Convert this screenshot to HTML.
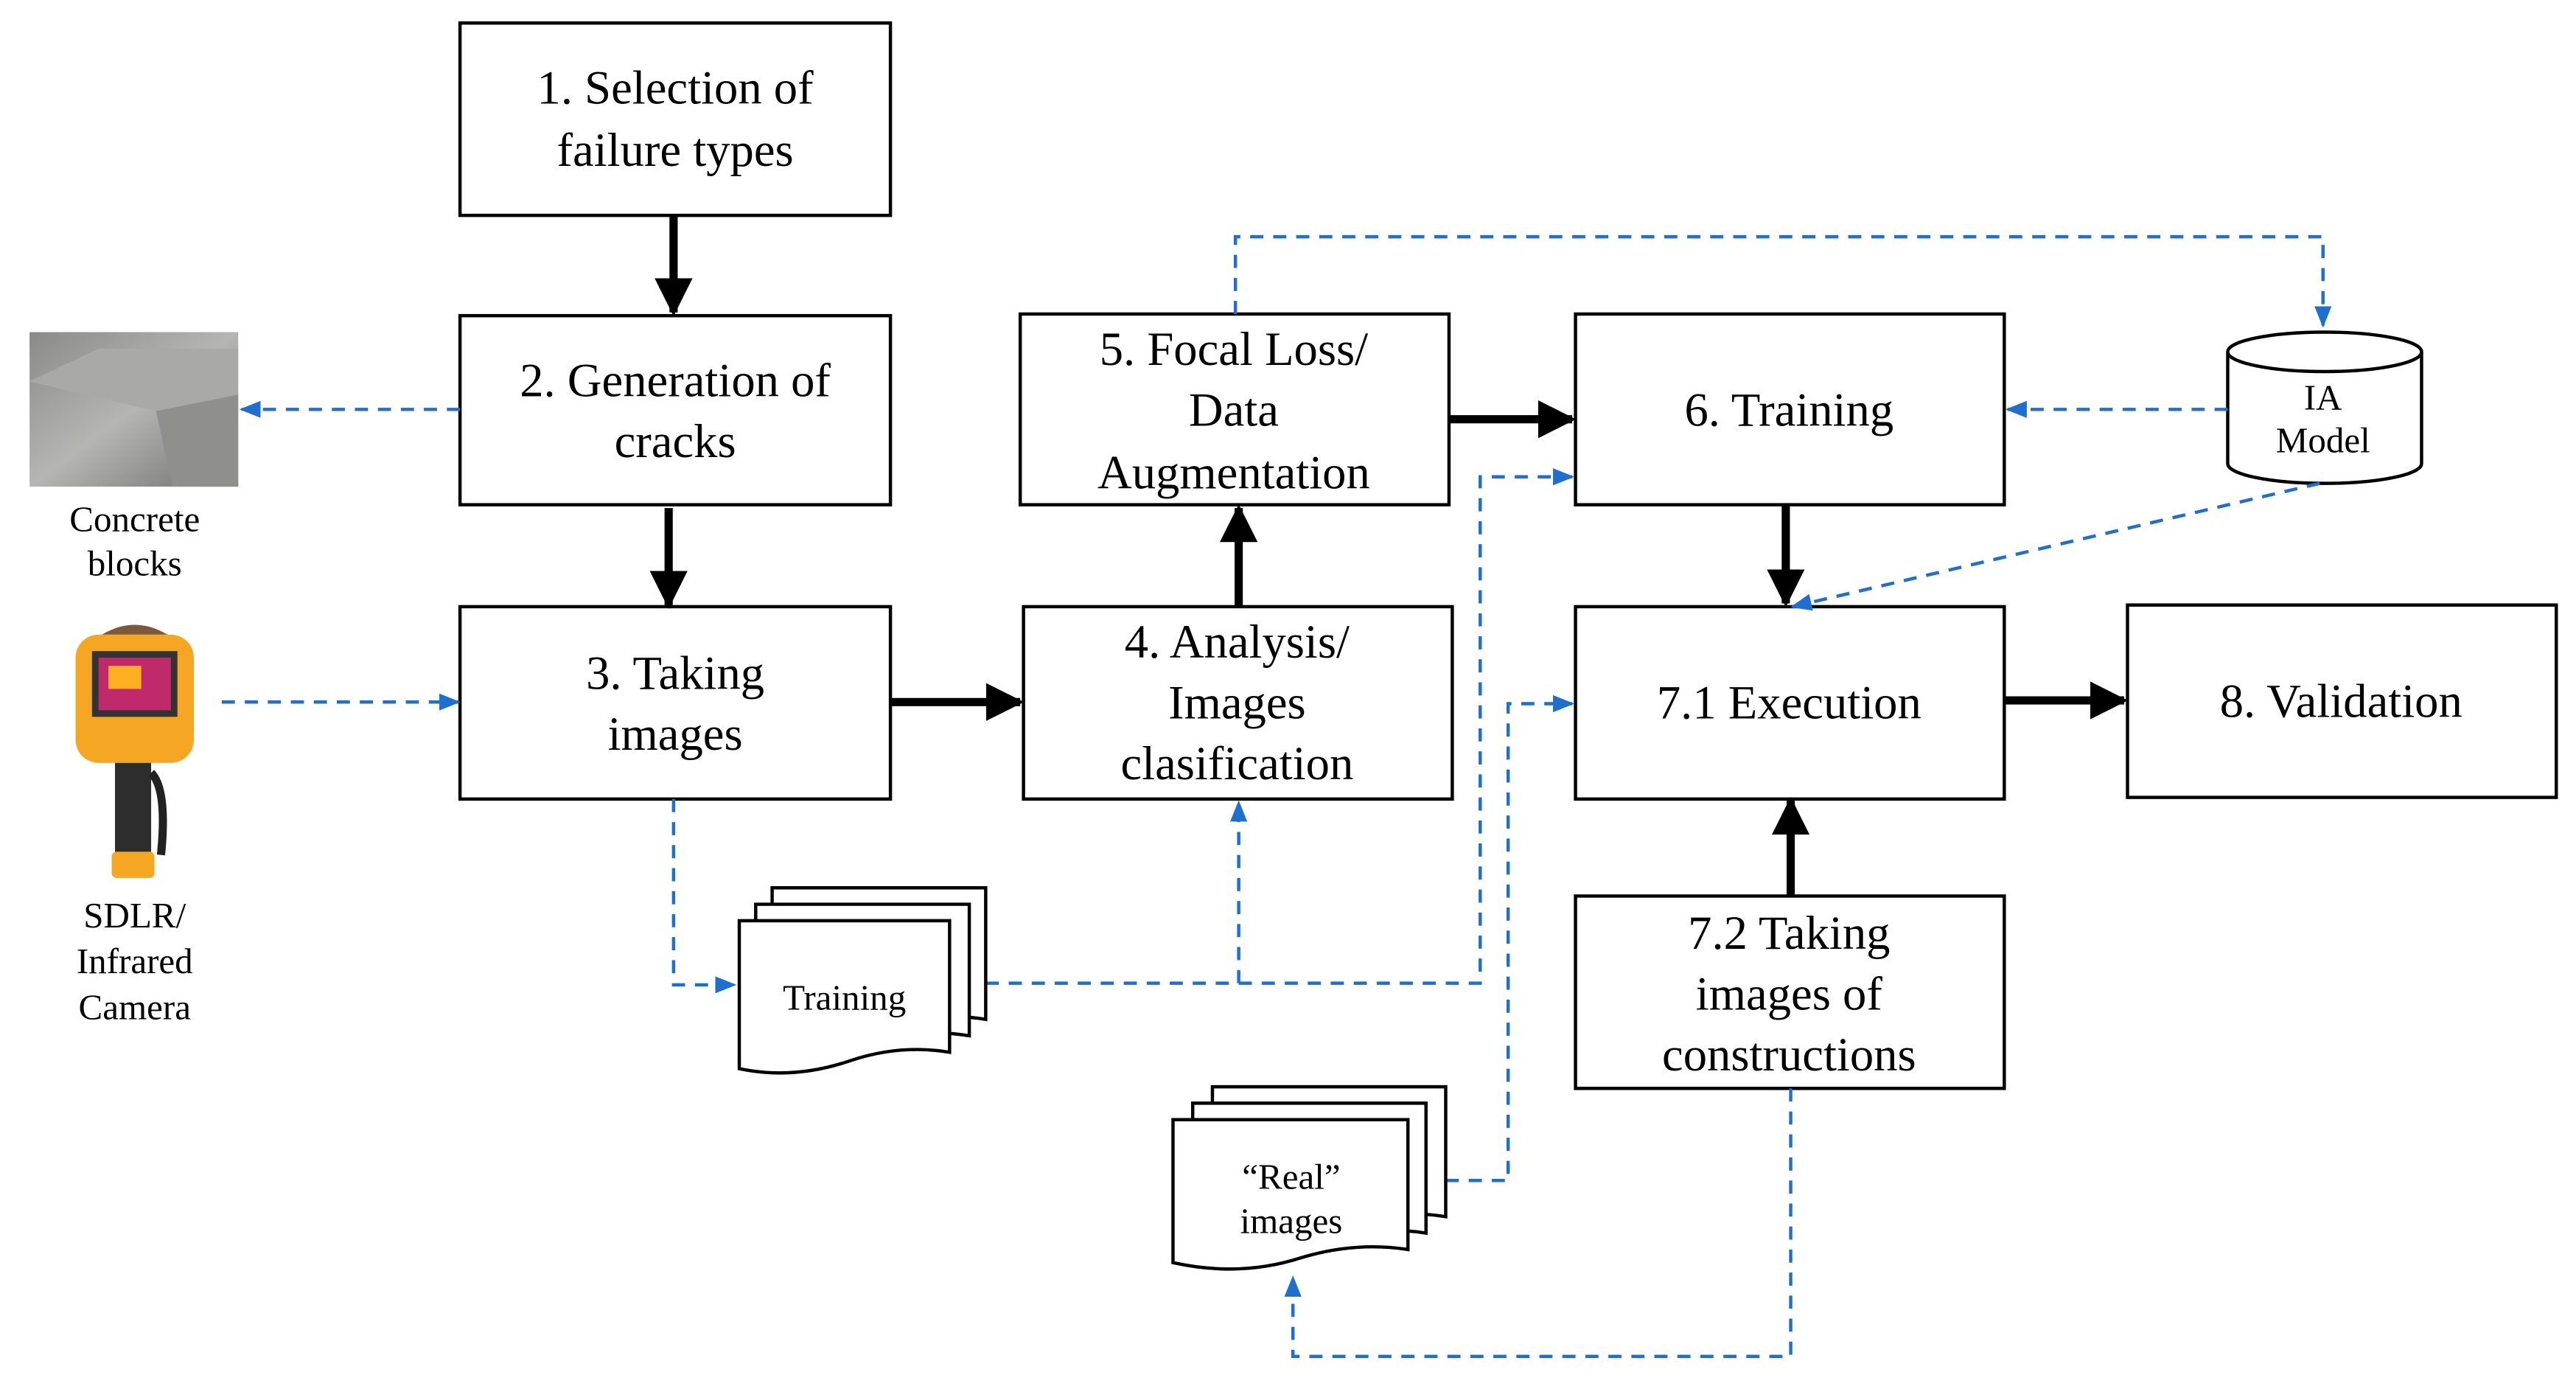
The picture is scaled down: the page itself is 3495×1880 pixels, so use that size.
<!DOCTYPE html>
<html><head><meta charset="utf-8"><style>html,body{margin:0;padding:0;background:#fff}svg{display:block}text{font-family:"Liberation Serif",serif}</style></head>
<body>
<svg width="3495" height="1880" viewBox="0 0 1568 843" preserveAspectRatio="none" xmlns="http://www.w3.org/2000/svg">
<defs>
<marker id="bk" viewBox="0 0 10 10" refX="9" refY="5" markerWidth="4.6" markerHeight="4.6" orient="auto"><path d="M0,0L10,5L0,10z" fill="#000"/></marker>
<marker id="bl" viewBox="0 0 10 10" refX="9" refY="5" markerWidth="6.5" markerHeight="6.5" orient="auto"><path d="M0,1L10,5L0,9z" fill="#1f6fd0"/></marker>
<linearGradient id="cg" x1="0" y1="0" x2="1" y2="1"><stop offset="0" stop-color="#8a8a88"/><stop offset="0.5" stop-color="#b5b5b2"/><stop offset="1" stop-color="#6f706e"/></linearGradient>
</defs>
<g text-anchor="middle" fill="#000">
<g fill="#fff" stroke="#000" stroke-width="2">
<rect x="280" y="14" width="262" height="117"/>
<rect x="280" y="192" width="262" height="115"/>
<rect x="280" y="369" width="262" height="117"/>
<rect x="623" y="369" width="261" height="117"/>
<rect x="621" y="191" width="261" height="116"/>
<rect x="959" y="191" width="261" height="116"/>
<rect x="959" y="369" width="261" height="117"/>
<rect x="1295" y="368" width="261" height="117"/>
<rect x="959" y="545" width="261" height="117"/>
</g>
<g font-size="29">
<text x="411" y="63">1. Selection of</text><text x="411" y="101">failure types</text>
<text x="411" y="241">2. Generation of</text><text x="411" y="278">cracks</text>
<text x="411" y="419">3. Taking</text><text x="411" y="456">images</text>
<text x="753" y="400">4. Analysis/</text><text x="753" y="437">Images</text><text x="753" y="474">clasification</text>
<text x="751" y="222">5. Focal Loss/</text><text x="751" y="259">Data</text><text x="751" y="297">Augmentation</text>
<text x="1089" y="259">6. Training</text>
<text x="1089" y="437">7.1 Execution</text>
<text x="1425" y="436">8. Validation</text>
<text x="1089" y="577">7.2 Taking</text><text x="1089" y="614">images of</text><text x="1089" y="651">constructions</text>
</g>
<path d="M1356,214 L1356,282 A59,12 0 0 0 1474,282 L1474,214" fill="#fff" stroke="#000" stroke-width="2"/>
<ellipse cx="1415" cy="214" rx="59" ry="12" fill="#fff" stroke="#000" stroke-width="2"/>
<text x="1414" y="249" font-size="22">IA</text><text x="1414" y="275" font-size="22">Model</text>
<g stroke="#000" stroke-width="5" fill="none" marker-end="url(#bk)">
<line x1="410" y1="131" x2="410" y2="190"/>
<line x1="407" y1="309" x2="407" y2="368"/>
<line x1="542" y1="427" x2="621" y2="427"/>
<line x1="754" y1="369" x2="754" y2="309"/>
<line x1="882" y1="255" x2="957" y2="255"/>
<line x1="1087" y1="307" x2="1087" y2="367"/>
<line x1="1220" y1="426" x2="1293" y2="426"/>
<line x1="1090" y1="545" x2="1090" y2="487"/>
</g>
<g stroke="#1f6fd0" stroke-width="2" fill="none" stroke-dasharray="8,6" marker-end="url(#bl)">
<line x1="280" y1="249" x2="147" y2="249"/>
<line x1="135" y1="427" x2="279" y2="427"/>
<polyline points="752,191 752,144 1414,144 1414,198"/>
<line x1="1356" y1="249" x2="1222" y2="249"/>
<line x1="1412" y1="294" x2="1091" y2="369"/>
<polyline points="410,486 410,599 447,599"/>
<polyline points="600,598 754,598 754,488"/>
<polyline points="754,598 901,598 901,290 957,290"/>
<polyline points="880,718 918,718 918,428 957,428"/>
<polyline points="1090,662 1090,825 787,825 787,777"/>
</g>
<g fill="#fff" stroke="#000" stroke-width="2">
<path d="M470,540 H600 V620 Q570,615 540,625 Q505,635 470,628 Z"/>
<path d="M460,550 H590 V630 Q560,625 530,635 Q495,645 460,638 Z"/>
<path d="M450,560 H578 V640 Q548,635 518,645 Q483,657 450,650 Z"/>
<path d="M738,661 H880 V740 Q848,735 815,745 Q778,756 738,748 Z"/>
<path d="M726,671 H868 V750 Q836,745 803,755 Q766,766 726,758 Z"/>
<path d="M714,681 H857 V760 Q825,755 792,765 Q755,777 714,768 Z"/>
</g>
<text x="514" y="614" font-size="22">Training</text>
<text x="786" y="723" font-size="22">“Real”</text><text x="786" y="750" font-size="22">images</text>
<rect x="18" y="202" width="127" height="94" fill="url(#cg)"/>
<path d="M18,232 L60,212 L145,212 L145,240 L95,250 Z" fill="#a9a9a6"/>
<path d="M95,250 L145,240 L145,296 L105,296 Z" fill="#8f8f8c"/>
<text x="82" y="323" font-size="22">Concrete</text><text x="82" y="350" font-size="22">blocks</text>
<path d="M62,386 Q82,374 102,386 Z" fill="#7a5a3a"/>
<rect x="46" y="386" width="72" height="78" rx="14" fill="#f5a623"/>
<rect x="56" y="396" width="52" height="40" fill="#333"/>
<rect x="60" y="400" width="44" height="32" fill="#c02a6a"/>
<rect x="66" y="405" width="20" height="14" fill="#ffb020"/>
<rect x="70" y="464" width="22" height="55" fill="#2d2d2d"/>
<path d="M92,470 Q102,480 98,520" stroke="#222" stroke-width="5" fill="none"/>
<rect x="68" y="518" width="26" height="16" rx="3" fill="#f5a623"/>
<text x="82" y="564" font-size="22">SDLR/</text><text x="82" y="592" font-size="22">Infrared</text><text x="82" y="620" font-size="22">Camera</text>
</g>
</svg>
</body></html>
